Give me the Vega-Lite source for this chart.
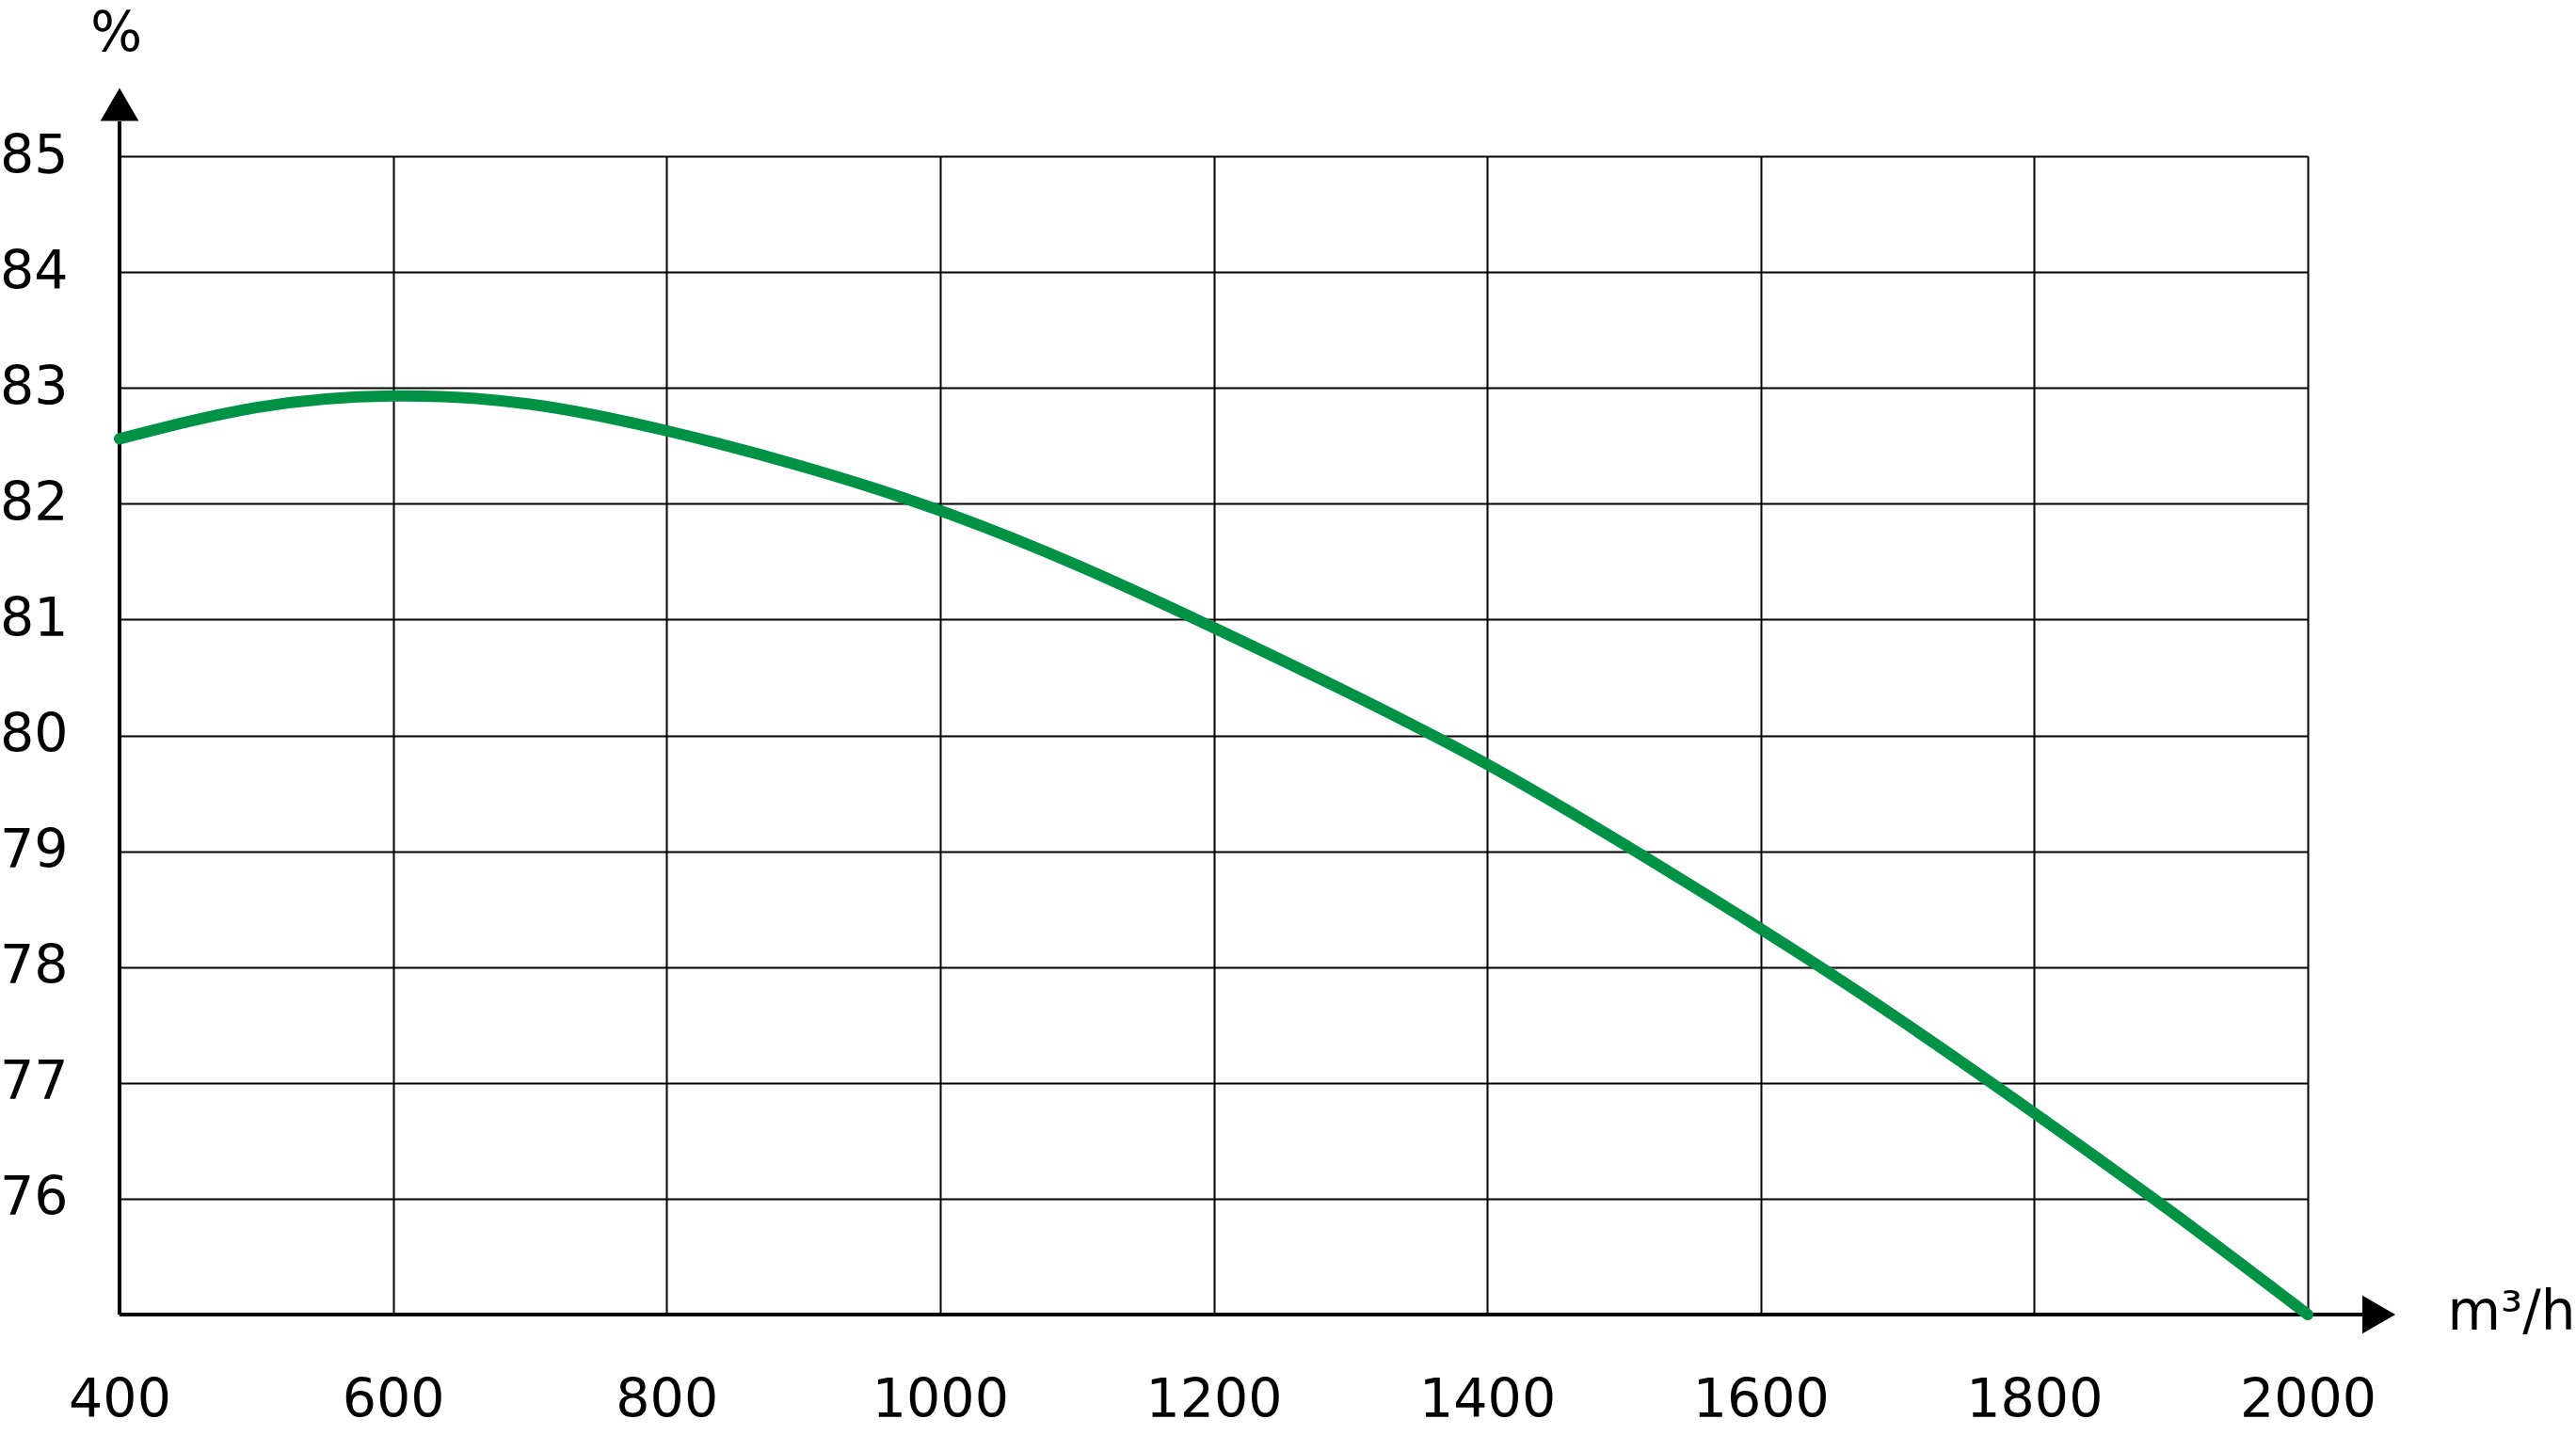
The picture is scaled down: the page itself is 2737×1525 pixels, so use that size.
{
  "$schema": "https://vega.github.io/schema/vega-lite/v6.json",
  "width": 2325,
  "height": 1231,
  "autosize": {"type": "none"},
  "padding": {"left": 127, "top": 166, "right": 285, "bottom": 128},
  "background": "white",
  "config": {"view": {"stroke": null}, "font": "DejaVu Sans"},
  "datasets": {
    "curve": [
      {"x": 400, "y": 82.56}, {"x": 500, "y": 82.83},
      {"x": 600, "y": 82.93}, {"x": 700, "y": 82.86},
      {"x": 800, "y": 82.63}, {"x": 900, "y": 82.32}, {"x": 1000, "y": 81.94}, {"x": 1100, "y": 81.47},
      {"x": 1200, "y": 80.93}, {"x": 1300, "y": 80.36}, {"x": 1400, "y": 79.75}, {"x": 1500, "y": 79.06},
      {"x": 1600, "y": 78.33}, {"x": 1700, "y": 77.56}, {"x": 1800, "y": 76.74}, {"x": 1900, "y": 75.89},
      {"x": 2000, "y": 75.0}
    ],
    "axes": [
      {"x": 400, "x2": 400, "y": 75, "y2": 85.3},
      {"x": 400, "x2": 2040, "y": 75, "y2": 75}
    ],
    "arrows": [
      {"x": 400, "y": 85.447, "shape": "triangle-up"},
      {"x": 2052, "y": 75, "shape": "triangle-right"}
    ]
  },
  "layer": [
    {
      "data": {"name": "axes"},
      "mark": {"type": "rule", "color": "black", "strokeWidth": 4},
      "encoding": {
        "x": {"field": "x", "type": "quantitative", "scale": {"domain": [400, 2000], "nice": false, "zero": false},
          "axis": {
            "values": [400, 600, 800, 1000, 1200, 1400, 1600, 1800, 2000],
            "format": "d",
            "grid": true, "gridColor": "black", "gridWidth": 2, "gridOpacity": 1,
            "domain": false, "ticks": false,
            "labelFontSize": 57, "labelColor": "black", "labelPadding": 91, "labelBaseline": "middle",
            "labelFlush": false, "labelOverlap": false, "labelBound": false,
            "title": "m³/h", "titleX": 2473, "titleY": 15, "titleAlign": "left", "titleBaseline": "alphabetic",
            "titleFontSize": 58, "titleFontWeight": "normal", "titleColor": "black"
          }},
        "x2": {"field": "x2"},
        "y": {"field": "y", "type": "quantitative", "scale": {"domain": [75, 85], "nice": false, "zero": false},
          "axis": {
            "values": [76, 77, 78, 79, 80, 81, 82, 83, 84, 85],
            "format": "d",
            "grid": true, "gridColor": "black", "gridWidth": 2, "gridOpacity": 1,
            "domain": false, "ticks": false,
            "labelFontSize": 57, "labelColor": "black", "labelPadding": 55, "labelAlign": "right", "labelBaseline": "middle",
            "labelFlush": false, "labelOverlap": false, "labelBound": false,
            "title": "%", "titleAngle": 0, "titleX": -4, "titleY": -130, "titleAlign": "center", "titleBaseline": "middle",
            "titleFontSize": 58, "titleFontWeight": "normal", "titleColor": "black"
          }},
        "y2": {"field": "y2"}
      }
    },
    {
      "data": {"name": "arrows"},
      "mark": {"type": "point", "filled": true, "color": "black", "opacity": 1, "size": 1650},
      "encoding": {
        "x": {"field": "x", "type": "quantitative"},
        "y": {"field": "y", "type": "quantitative"},
        "shape": {"field": "shape", "type": "nominal", "scale": {"domain": ["triangle-up", "triangle-right"], "range": ["triangle-up", "triangle-right"]}, "legend": null}
      }
    },
    {
      "data": {"name": "curve"},
      "mark": {"type": "line", "color": "#009245", "strokeWidth": 12, "strokeCap": "round", "strokeJoin": "round", "interpolate": "natural"},
      "encoding": {
        "x": {"field": "x", "type": "quantitative"},
        "y": {"field": "y", "type": "quantitative"}
      }
    }
  ]
}
